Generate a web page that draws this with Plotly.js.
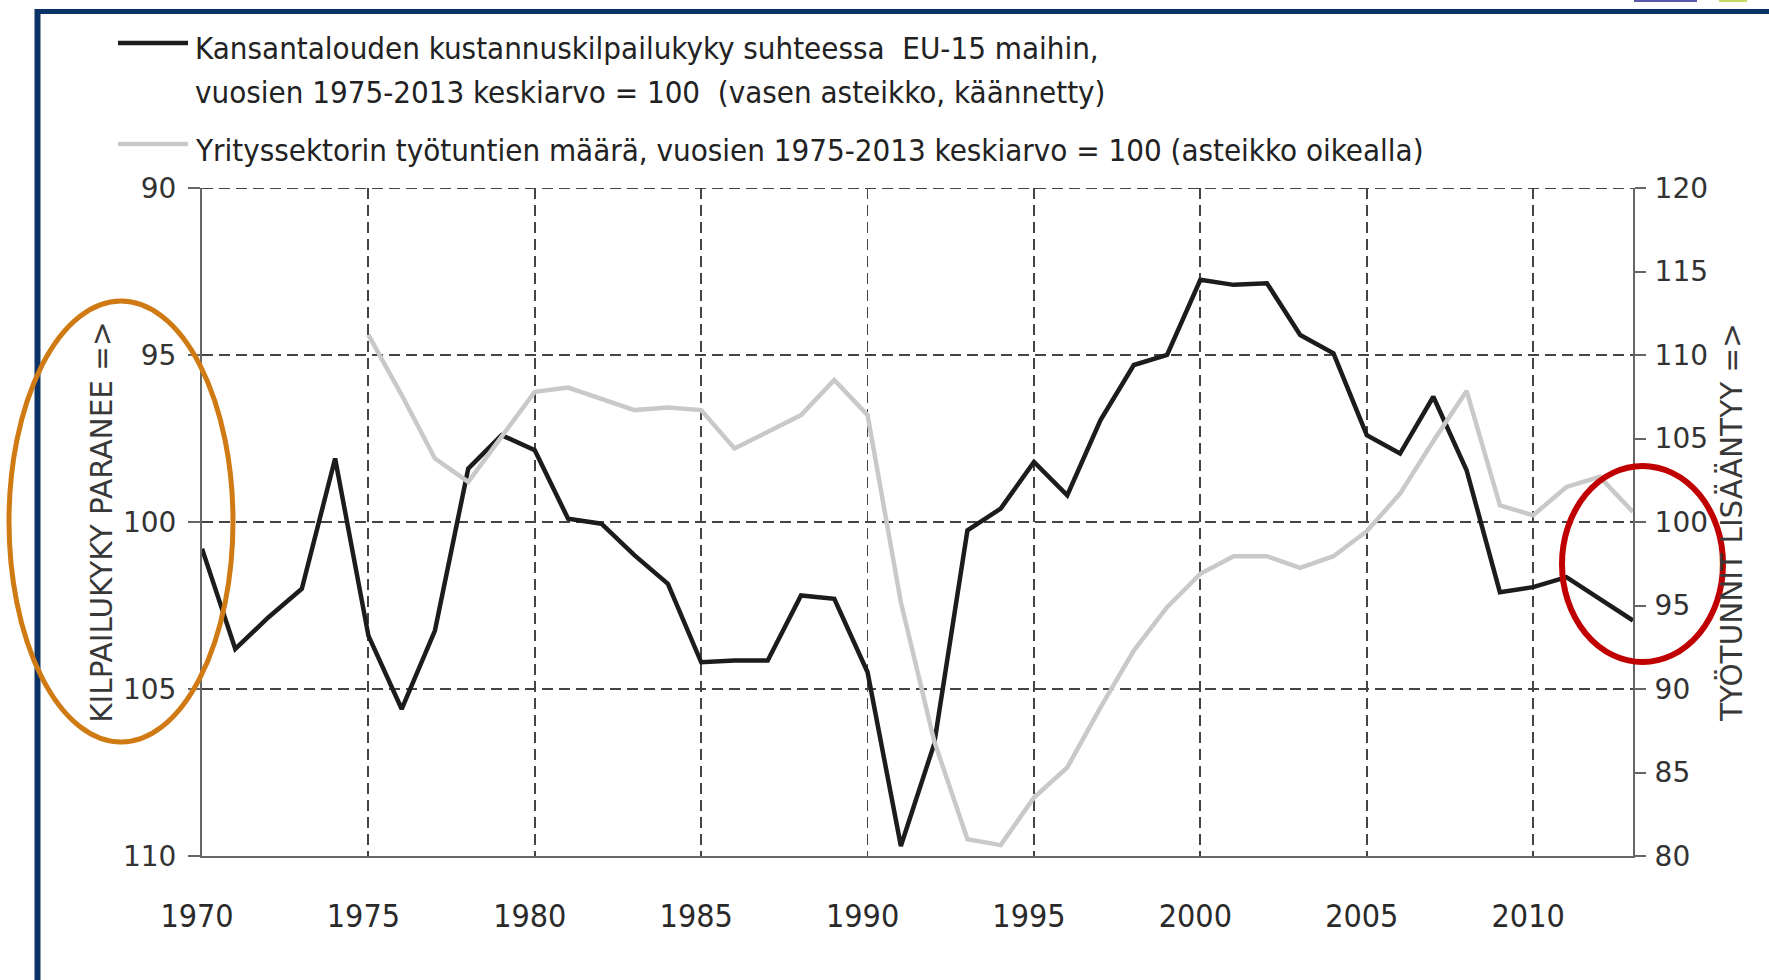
<!DOCTYPE html>
<html>
<head>
<meta charset="utf-8">
<script src="https://cdn.plot.ly/plotly-3.0.1.min.js"></script>
<style>
  body { margin: 0; background: #fff; }
  #chart { width: 1769px; height: 980px; }
</style>
</head>
<body>
<div id="chart"></div>
<script>
// Kustannuskilpailukyky (vasen asteikko, käännetty)
const years = [1970, 1971, 1972, 1973, 1974, 1975, 1976, 1977, 1978, 1979,
               1980, 1981, 1982, 1983, 1984, 1985, 1986, 1987, 1988, 1989,
               1990, 1991, 1992, 1993, 1994, 1995, 1996, 1997, 1998, 1999,
               2000, 2001, 2002, 2003, 2004, 2005, 2006, 2007, 2008, 2009,
               2010, 2011, 2012, 2013];
const kilpailukyky = [100.8, 103.8, 102.85, 102.0, 98.1, 103.4, 105.6, 103.25, 98.4, 97.4,
                      97.85, 99.9, 100.05, 101.0, 101.85, 104.2, 104.15, 104.15, 102.2, 102.3,
                      104.5, 109.7, 106.65, 100.25, 99.6, 98.2, 99.2, 96.95, 95.3, 95.0,
                      92.75, 92.9, 92.85, 94.4, 94.95, 97.4, 97.95, 96.25, 98.45, 102.1,
                      101.95, 101.65, 102.3, 102.95];

// Työtunnit (oikea asteikko), alkaa 1975
const yearsTunnit = [1975, 1976, 1977, 1978, 1979, 1980, 1981, 1982, 1983, 1984,
                     1985, 1986, 1987, 1988, 1989, 1990, 1991, 1992, 1993, 1994,
                     1995, 1996, 1997, 1998, 1999, 2000, 2001, 2002, 2003, 2004,
                     2005, 2006, 2007, 2008, 2009, 2010, 2011, 2012, 2013];
const tyotunnit = [111.2, 107.6, 103.8, 102.4, 105.1, 107.8, 108.05, 107.4, 106.7, 106.85,
                   106.7, 104.4, 105.4, 106.4, 108.5, 106.4, 95.2, 86.9, 81.0, 80.65,
                   83.5, 85.3, 88.9, 92.3, 94.9, 96.9, 97.95, 97.95, 97.25, 97.95,
                   99.45, 101.7, 104.85, 107.85, 101.0, 100.4, 102.1, 102.7, 100.6];

const legendLines = [
    'Kansantalouden kustannuskilpailukyky suhteessa\u00a0 EU-15 maihin,',
    'vuosien 1975-2013 keskiarvo = 100\u00a0 (vasen asteikko, käännetty)',
    'Yrityssektorin työtuntien määrä, vuosien 1975-2013 keskiarvo = 100 (asteikko oikealla)'
];
const leftTitle = 'KILPAILUKYKY PARANEE =>';
const rightTitle = 'TYÖTUNNIT LISÄÄNTYY =>';

// pikseleistä paper-koordinaateiksi
const M = { l: 202, r: 136, t: 188, b: 124 };
const W = 1769, H = 980;
const pw = W - M.l - M.r, ph = H - M.t - M.b;
const px = x => (x - M.l) / pw;
const py = y => (H - M.b - y) / ph;

const gridStyle = { showgrid: true, gridcolor: '#444', gridwidth: 1.8, griddash: '11px,6px' };
const tickFont = { family: 'DejaVu Sans', size: 28, color: '#333' };
const titleFont = { family: 'DejaVu Sans', size: 29.5, color: '#383838' };
const legendFont = { family: 'DejaVu Sans Condensed', size: 31, color: '#222' };

const data = [
    {
        x: years, y: kilpailukyky, name: legendLines[0] + ' ' + legendLines[1],
        type: 'scatter', mode: 'lines', yaxis: 'y',
        line: { color: '#1c1c1c', width: 4.5 }
    },
    {
        x: yearsTunnit, y: tyotunnit, name: legendLines[2],
        type: 'scatter', mode: 'lines', yaxis: 'y2',
        line: { color: '#c9c9c9', width: 4.5 }
    }
];

const layout = {
    width: W, height: H,
    margin: M,
    paper_bgcolor: '#fff', plot_bgcolor: '#fff',
    showlegend: false,
    xaxis: Object.assign({
        range: [1970, 2013], tick0: 1970, dtick: 5,
        showline: true, linecolor: '#666', linewidth: 2,
        ticks: '', ticklabelstandoff: 31, ticklabelshift: -5,
        tickfont: { family: 'DejaVu Sans Condensed', size: 32, color: '#2a2a2a' },
        zeroline: false
    }, gridStyle),
    yaxis: Object.assign({
        range: [110, 90], tick0: 90, dtick: 5,
        showline: true, linecolor: '#666', linewidth: 2,
        ticks: 'outside', ticklen: 12, tickwidth: 2, tickcolor: '#666',
        ticklabelstandoff: 6, tickfont: tickFont,
        title: { text: leftTitle, font: titleFont, standoff: 2 },
        zeroline: false
    }, gridStyle),
    yaxis2: {
        overlaying: 'y', side: 'right',
        range: [80, 120], tick0: 80, dtick: 5,
        showgrid: false, zeroline: false,
        showline: true, linecolor: '#666', linewidth: 2,
        ticks: 'outside', ticklen: 11, tickwidth: 2, tickcolor: '#666',
        ticklabelstandoff: 3, tickfont: tickFont,
        title: { text: rightTitle, font: titleFont, standoff: 14 }
    },
    annotations: [
        { text: legendLines[0], x: px(193), y: py(48), xref: 'paper', yref: 'paper',
          xanchor: 'left', yanchor: 'middle', showarrow: false, font: legendFont },
        { text: legendLines[1], x: px(193), y: py(92), xref: 'paper', yref: 'paper',
          xanchor: 'left', yanchor: 'middle', showarrow: false, font: legendFont },
        { text: legendLines[2], x: px(193), y: py(150), xref: 'paper', yref: 'paper',
          xanchor: 'left', yanchor: 'middle', showarrow: false, font: legendFont }
    ],
    shapes: [
        // ylin katkoviiva (Plotly piilottaa reunaviivan)
        { type: 'line', xref: 'x', yref: 'y', x0: 1970, x1: 2013, y0: 90, y1: 90,
          line: { color: '#444', width: 1.8, dash: '11px,6px' } },
        // legendan näytteet
        { type: 'line', xref: 'paper', yref: 'paper', x0: px(118), x1: px(188), y0: py(43), y1: py(43),
          line: { color: '#1c1c1c', width: 4.5 } },
        { type: 'line', xref: 'paper', yref: 'paper', x0: px(118), x1: px(188), y0: py(144), y1: py(144),
          line: { color: '#c9c9c9', width: 4.5 } },
        // kehys
        { type: 'line', xref: 'paper', yref: 'paper', x0: px(37.5), x1: px(37.5), y0: py(9), y1: py(985),
          line: { color: '#0b3366', width: 6 } },
        { type: 'line', xref: 'paper', yref: 'paper', x0: px(35), x1: px(1775), y0: py(11.5), y1: py(11.5),
          line: { color: '#0b3366', width: 5 } },
        { type: 'line', xref: 'paper', yref: 'paper', x0: px(1634), x1: px(1697), y0: py(1), y1: py(1),
          line: { color: '#5a5aa8', width: 2 } },
        { type: 'line', xref: 'paper', yref: 'paper', x0: px(1719), x1: px(1747), y0: py(1), y1: py(1),
          line: { color: '#c8d860', width: 2 } },
        // korostukset
        { type: 'circle', xref: 'paper', yref: 'paper', x0: px(9), x1: px(233), y0: py(742), y1: py(301),
          line: { color: '#d07a14', width: 5 } },
        { type: 'circle', xref: 'paper', yref: 'paper', x0: px(1562), x1: px(1723), y0: py(662), y1: py(466),
          line: { color: '#c00000', width: 6 } }
    ]
};

Plotly.newPlot('chart', data, layout, { displayModeBar: false, staticPlot: true });
</script>
</body>
</html>
